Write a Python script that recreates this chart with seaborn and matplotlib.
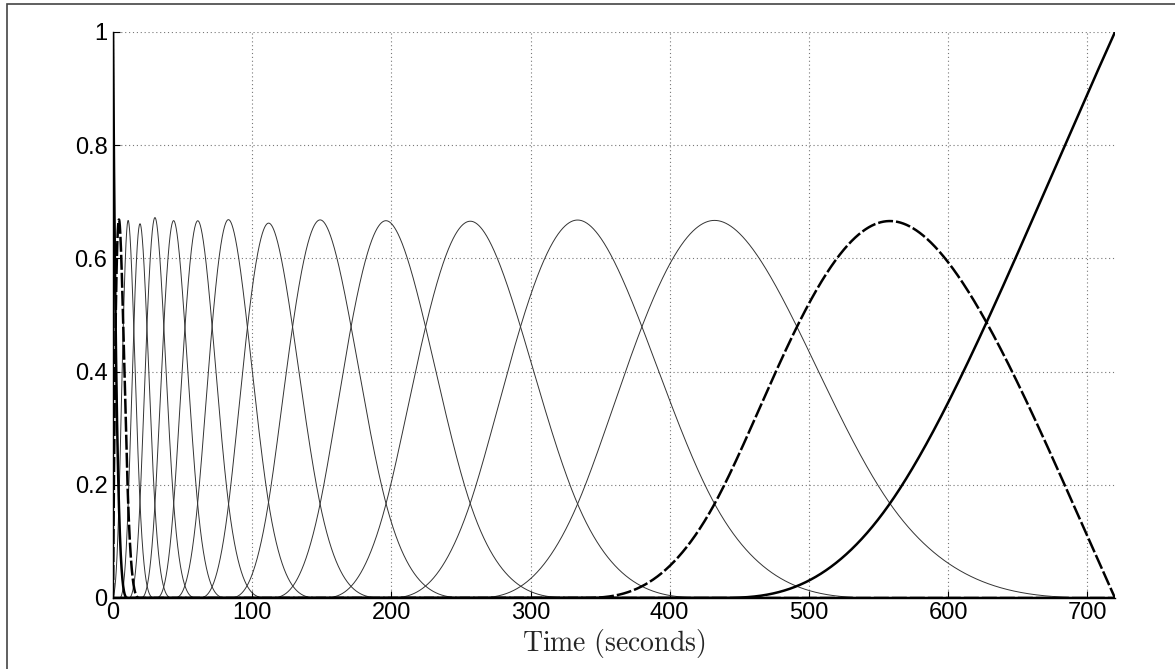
import numpy as np
import pandas as pd
import matplotlib
matplotlib.use("Agg")
import matplotlib.pyplot as plt
import matplotlib.patches as mpatches
import seaborn as sns

# ---- data -----------------------------------------------------------------
# spline knots (seconds); the centre of every bump sits on a knot,
# the outer ones lie beyond the plotted range [0, 720]
knots_t = [-10.8, -8.3, -5.1, -1.0, 4.3, 10.8, 19.5, 30.3, 43.3, 61.0, 82.5,
           111.8, 149.0, 196.0, 257.0, 334.0, 432.0, 558.0, 720.0, 926.0,
           1190.0, 1530.0]
t_range = [0.0, 720.0]
warp_offset = 20.0          # knots are evenly spaced in log(t + offset)
x_ticks = [0, 100, 200, 300, 400, 500, 600, 700]
y_ticks = [0, 0.2, 0.4, 0.6, 0.8, 1]
y_ticklabels = ["0", "0.2", "0.4", "0.6", "0.8", "1"]
x_label = "Time (seconds)"


def bspline_columns(x, knots, degree=3):
    k = np.asarray(knots, float)
    B = np.array([((x >= k[i]) & (x < k[i + 1])).astype(float)
                  for i in range(len(k) - 1)]).T
    for d in range(1, degree + 1):
        cols = []
        for i in range(len(k) - 1 - d):
            left = (x - k[i]) / (k[i + d] - k[i]) * B[:, i]
            right = (k[i + d + 1] - x) / (k[i + d + 1] - k[i + 1]) * B[:, i + 1]
            cols.append(left + right)
        B = np.array(cols).T
    return B


t = np.unique(np.concatenate([np.linspace(t_range[0], t_range[1], 20001),
                              np.linspace(0, 30, 3001)]))
u = np.log(t + warp_offset)
uk = np.log(np.asarray(knots_t) + warp_offset)
B = bspline_columns(u, uk)

# boundary-adapted functions
aL = B[0, 2] / B[0, 0]
dashed_left = B[:, 2] - aL * B[:, 0]
solid_left = B[:, 1] + (1 + aL) * B[:, 0]
aR = B[-1, 15] / B[-1, 17]
dashed_right = B[:, 15] - aR * B[:, 17]
solid_right = B[:, 16] + (1 + aR) * B[:, 17]

rows = []
for j in range(3, 15):
    rows.append(pd.DataFrame({"t": t, "v": B[:, j], "curve": f"b{j}", "kind": "thin"}))
rows.append(pd.DataFrame({"t": t, "v": dashed_left, "curve": "dl", "kind": "dashed"}))
rows.append(pd.DataFrame({"t": t, "v": dashed_right, "curve": "dr", "kind": "dashed"}))
rows.append(pd.DataFrame({"t": t, "v": solid_left, "curve": "sl", "kind": "thick"}))
rows.append(pd.DataFrame({"t": t, "v": solid_right, "curve": "sr", "kind": "thick"}))
df = pd.concat(rows, ignore_index=True)

# ---- figure ---------------------------------------------------------------
sns.set_theme(style="white")
plt.rcParams["font.family"] = ["Liberation Sans", "DejaVu Sans"]
plt.rcParams["mathtext.fontset"] = "cm"

fig = plt.figure(figsize=(11.75, 6.69), dpi=100)
fig.patch.set_facecolor("white")
ax = fig.add_axes([113 / 1175, 1 - 598 / 669, 1002 / 1175, 566 / 669])

for name, g in df.groupby("curve", sort=False):
    kind = g["kind"].iloc[0]
    if kind == "thin":
        sns.lineplot(data=g, x="t", y="v", ax=ax, color="#333333", lw=0.7,
                     estimator=None, sort=False)
    elif kind == "dashed":
        sns.lineplot(data=g, x="t", y="v", ax=ax, color="black", lw=1.8,
                     estimator=None, sort=False, dashes=False,
                     linestyle=(0, (6, 1.2)))
    else:
        sns.lineplot(data=g, x="t", y="v", ax=ax, color="black", lw=1.8,
                     estimator=None, sort=False)

ax.set_xlim(t_range)
ax.set_ylim(0, 1)
ax.set_xticks(x_ticks)
ax.set_xticklabels([str(v) for v in x_ticks])
ax.set_yticks(y_ticks)
ax.set_yticklabels(y_ticklabels)
ax.grid(True, color="#777777", linestyle=(0, (1, 2.5)), lw=0.8)
for s in ["top", "right"]:
    ax.spines[s].set_visible(False)
for s in ["left", "bottom"]:
    ax.spines[s].set_color("black")
    ax.spines[s].set_linewidth(1.0)
ax.tick_params(direction="in", length=5, width=0.8, labelsize=17, pad=4,
               colors="black", left=True, bottom=True)
ax.tick_params(axis="x", pad=3)
ax.set_xlabel(r"$\mathrm{Time\ (seconds)}$", fontsize=20, labelpad=2)
ax.set_ylabel("")

# outer frame (only its top and left edges fall inside the picture)
fig.add_artist(mpatches.Rectangle((7 / 1175, -0.5), 1.5, 0.5 + 1 - 4 / 669,
                                  transform=fig.transFigure, fill=False,
                                  edgecolor="#444444", lw=1.2))

fig.savefig("out.png", dpi=100, facecolor="white")
